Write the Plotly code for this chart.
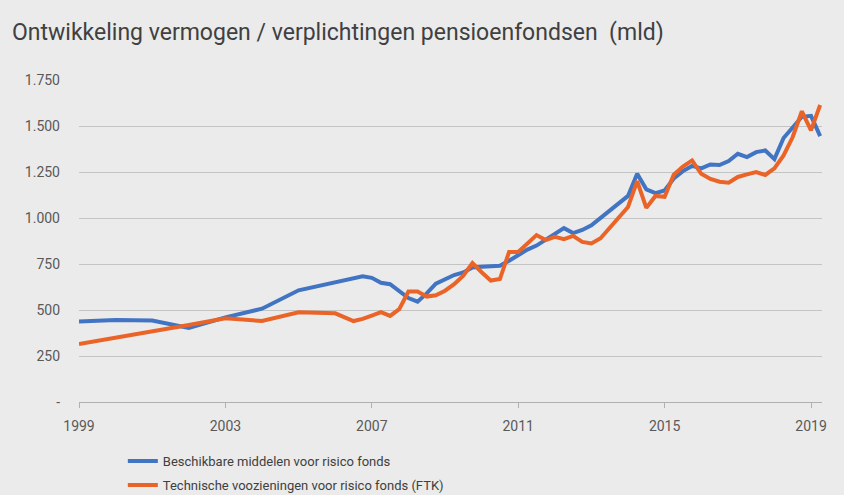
import plotly.graph_objects as go

title = "Ontwikkeling vermogen / verplichtingen pensioenfondsen  (mld)"
name_blue = "Beschikbare middelen voor risico fonds"
name_orange = "Technische voozieningen voor risico fonds (FTK)"

x_blue = [1999.0, 2000.0, 2001.0, 2002.0, 2003.0, 2004.0, 2005.0, 2006.0, 2006.75,
          2007.0, 2007.25, 2007.5, 2007.75, 2008.0, 2008.25, 2008.5, 2008.75,
          2009.0, 2009.25, 2009.5, 2009.75, 2010.0, 2010.25, 2010.5, 2010.75,
          2011.0, 2011.25, 2011.5, 2011.75, 2012.0, 2012.25, 2012.5, 2012.75,
          2013.0, 2013.25, 2013.5, 2013.75, 2014.0, 2014.25, 2014.5, 2014.75,
          2015.0, 2015.25, 2015.5, 2015.75, 2016.0, 2016.25, 2016.5, 2016.75,
          2017.0, 2017.25, 2017.5, 2017.75, 2018.0, 2018.25, 2018.5, 2018.75,
          2019.0, 2019.25]
y_blue = [437, 445, 443, 402, 460, 507, 607, 650, 683,
          675, 648, 640, 605, 565, 545, 590, 643,
          665, 690, 704, 731, 735, 737, 740, 768,
          800, 828, 850, 880, 910, 945, 918, 935,
          960, 1000, 1045, 1080, 1120, 1240, 1156, 1135,
          1150, 1215, 1255, 1283, 1270, 1291, 1288, 1310,
          1349, 1331, 1358, 1367, 1320, 1435, 1490, 1550,
          1555, 1445]

x_orange = [1999.0, 2000.0, 2001.0, 2002.0, 2003.0, 2004.0, 2005.0, 2006.0, 2006.5,
            2006.75, 2007.0, 2007.25, 2007.5, 2007.75, 2008.0, 2008.25, 2008.5,
            2008.75, 2009.0, 2009.25, 2009.5, 2009.75, 2010.0, 2010.25, 2010.5,
            2010.75, 2011.0, 2011.25, 2011.5, 2011.75, 2012.0, 2012.25, 2012.5,
            2012.75, 2013.0, 2013.25, 2013.5, 2013.75, 2014.0, 2014.25, 2014.5,
            2014.75, 2015.0, 2015.25, 2015.5, 2015.75, 2016.0, 2016.25, 2016.5,
            2016.75, 2017.0, 2017.25, 2017.5, 2017.75, 2018.0, 2018.25, 2018.5,
            2018.75, 2019.0, 2019.25]
y_orange = [315, 348, 380, 418, 455, 440, 488, 482, 440,
            452, 470, 488, 468, 505, 600, 600, 573,
            580, 605, 640, 686, 755, 705, 660, 668,
            815, 815, 860, 907, 880, 898, 885, 903,
            870, 862, 890, 945, 1000, 1060, 1200, 1055,
            1120, 1115, 1235, 1280, 1313, 1240, 1212, 1197,
            1192, 1223, 1237, 1250, 1234, 1270, 1340, 1440,
            1580, 1476, 1614]

x_ticks = [1999, 2003, 2007, 2011, 2015, 2019]
y_ticks = [0, 250, 500, 750, 1000, 1250, 1500, 1750]
y_ticktext = ["-", "250", "500", "750", "1.000", "1.250", "1.500", "1.750"]

BLUE = "#4174C2"
ORANGE = "#EA6428"
BG = "#ebebeb"
FONT = "Roboto, Arial, sans-serif"

fig = go.Figure()
fig.add_trace(go.Scatter(x=x_blue, y=y_blue, mode="lines", name=name_blue,
                         line=dict(color=BLUE, width=4), legend="legend"))
fig.add_trace(go.Scatter(x=x_orange, y=y_orange, mode="lines", name=name_orange,
                         line=dict(color=ORANGE, width=4), legend="legend2"))

leg_common = dict(orientation="v", xanchor="left", yanchor="middle",
                  bgcolor="rgba(0,0,0,0)", font=dict(size=13, color="#404040"))

fig.update_layout(
    width=844, height=495,
    paper_bgcolor=BG, plot_bgcolor=BG,
    margin=dict(l=79, r=22, t=80, b=93, autoexpand=False),
    font=dict(family=FONT, color="#595959", size=14),
    title=dict(text=title, x=12 / 844, xanchor="left", xref="container",
               y=1 - 32 / 495, yanchor="middle", yref="container",
               font=dict(family=FONT, size=23, color="#404040")),
    showlegend=True,
    legend=dict(x=0.059, y=(402 - 461) / 322, **leg_common),
    legend2=dict(x=0.059, y=(402 - 485) / 322, **leg_common),
    xaxis=dict(range=[1999, 2019.3], tickvals=x_ticks, ticktext=[str(v) for v in x_ticks],
               showgrid=False, zeroline=False, showline=True, linecolor="#b0b0b0",
               linewidth=1, ticks="outside", ticklen=5, tickcolor="#b0b0b0",
               ticklabelstandoff=6,
               tickfont=dict(size=14, color="#595959")),
    yaxis=dict(range=[0, 1750], tickvals=y_ticks, ticktext=y_ticktext,
               showgrid=True, gridcolor="#c4c4c4", gridwidth=1, zeroline=False,
               showline=False, ticks="", ticklabelstandoff=18,
               tickfont=dict(size=14, color="#595959")),
)

fig.write_html("out.html", config={"displayModeBar": False},
               post_script="document.body.style.margin='0px';document.body.style.overflow='hidden';")
